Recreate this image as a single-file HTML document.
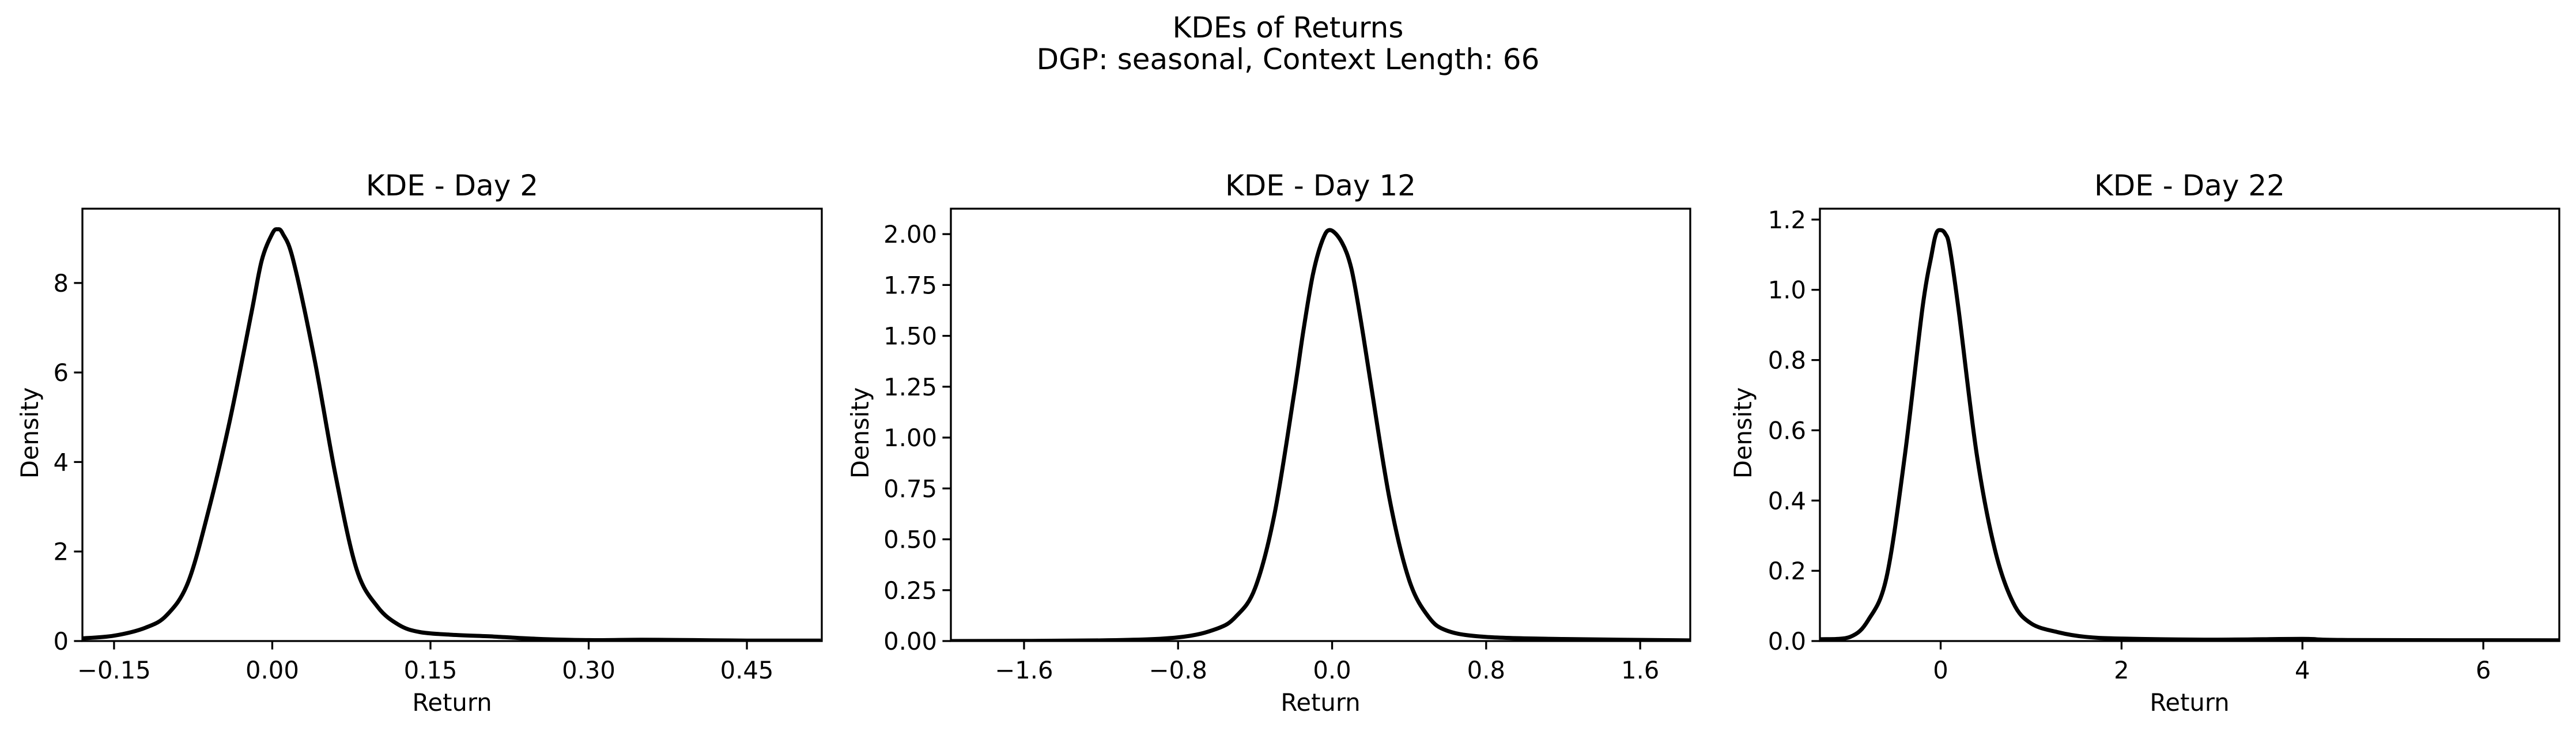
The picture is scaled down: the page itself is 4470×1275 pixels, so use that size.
<!DOCTYPE html>
<html><head><meta charset="utf-8"><style>
html,body{margin:0;padding:0;background:#fff;}
svg{display:block;font-family:"DejaVu Sans","Liberation Sans",sans-serif;}
</style></head><body>
<svg id="fig" xmlns="http://www.w3.org/2000/svg" width="4470" height="1275" viewBox="0 0 4470 1275">
<rect width="4470" height="1275" fill="#fff"/>
<text x="2235" y="65" font-size="50" text-anchor="middle">KDEs of Returns</text>
<text x="2235" y="120" font-size="50" text-anchor="middle">DGP: seasonal, Context Length: 66</text>
</svg>
<script>
const titles = ["KDE - Day 2", "KDE - Day 12", "KDE - Day 22"];
const x1 = [-0.18,-0.15,-0.12,-0.10,-0.08,-0.06,-0.04,-0.02,-0.01,0.0,0.005,0.01,0.02,0.04,0.06,0.08,0.10,0.12,0.14,0.17,0.21,0.25,0.30,0.35,0.40,0.45,0.52];
const y1 = [0.06,0.12,0.3,0.58,1.3,2.95,4.95,7.3,8.5,9.1,9.2,9.1,8.5,6.3,3.7,1.6,0.76,0.36,0.2,0.14,0.1,0.05,0.02,0.03,0.02,0.01,0.01];
const x2 = [-1.98,-1.2,-0.8,-0.6,-0.5,-0.4,-0.3,-0.2,-0.15,-0.1,-0.05,-0.01,0.05,0.1,0.15,0.2,0.3,0.4,0.5,0.6,0.8,1.2,1.86];
const y2 = [0.0,0.003,0.018,0.06,0.12,0.26,0.62,1.2,1.52,1.8,1.97,2.02,1.96,1.83,1.57,1.27,0.69,0.3,0.12,0.05,0.02,0.01,0.003];
const x3 = [-1.335,-1.0,-0.8,-0.6,-0.4,-0.2,-0.1,-0.05,0.0,0.05,0.1,0.2,0.4,0.6,0.8,1.0,1.3,1.6,2.0,3.0,4.0,4.5,6.84];
const y3 = [0.005,0.012,0.06,0.18,0.52,0.95,1.1,1.16,1.17,1.16,1.12,0.94,0.53,0.26,0.11,0.05,0.025,0.012,0.007,0.004,0.006,0.003,0.002];
const xDomains = [[-0.18,0.521],[-1.98,1.86],[-1.335,6.84]];
const yDomains = [[0,9.66],[0,2.125],[0,1.231]];
const xTicks = [[-0.15,0,0.15,0.30,0.45],[-1.6,-0.8,0,0.8,1.6],[0,2,4,6]];
const xTickLabels = [["\u22120.15","0.00","0.15","0.30","0.45"],["\u22121.6","\u22120.8","0.0","0.8","1.6"],["0","2","4","6"]];
const yTicks = [[0,2,4,6,8],[0,0.25,0.5,0.75,1,1.25,1.5,1.75,2],[0,0.2,0.4,0.6,0.8,1.0,1.2]];
const yTickLabels = [["0","2","4","6","8"],["0.00","0.25","0.50","0.75","1.00","1.25","1.50","1.75","2.00"],["0.0","0.2","0.4","0.6","0.8","1.0","1.2"]];
const xs = [x1,x2,x3], ys = [y1,y2,y3];
const NS = "http://www.w3.org/2000/svg";
const svg = document.getElementById('fig');
const lefts = [143,1650,3158], W = 1283, top0 = 362, bot = 1112, ylabX = [52,1493,3025];
function mk(tag, attrs, parent){const e=document.createElementNS(NS,tag);for(const k in attrs)e.setAttribute(k,attrs[k]);(parent||svg).appendChild(e);return e;}
function smooth(P){
  let d='M'+P[0][0].toFixed(1)+','+P[0][1].toFixed(1);
  for(let i=0;i<P.length-1;i++){
    const p0=P[i-1]||P[i],p1=P[i],p2=P[i+1],p3=P[i+2]||P[i+1];
    const c1=[p1[0]+(p2[0]-p0[0])/6,p1[1]+(p2[1]-p0[1])/6];
    const c2=[p2[0]-(p3[0]-p1[0])/6,p2[1]-(p3[1]-p1[1])/6];
    d+='C'+c1[0].toFixed(1)+','+c1[1].toFixed(1)+' '+c2[0].toFixed(1)+','+c2[1].toFixed(1)+' '+p2[0].toFixed(1)+','+p2[1].toFixed(1);
  }
  return d;
}
for(let p=0;p<3;p++){
  const L=lefts[p];
  const sx=v=>L+(v-xDomains[p][0])/(xDomains[p][1]-xDomains[p][0])*W;
  const sy=v=>bot-(v-yDomains[p][0])/(yDomains[p][1]-yDomains[p][0])*(bot-top0);
  const g=mk('g',{});
  
  
  const pts=xs[p].map((v,i)=>[sx(v),sy(ys[p][i])]);
  const cp=mk('clipPath',{id:'c'+p},g);mk('rect',{x:L,y:top0,width:W,height:bot-top0},cp);
  const line=mk('path',{d:smooth(pts),fill:'none',stroke:'#000','stroke-width':7,'stroke-linejoin':'round','clip-path':'url(#c'+p+')'},g);
  
  
  const fr=mk('rect',{x:L,y:top0,width:W,height:bot-top0,fill:'none',stroke:'#000','stroke-width':3.3},g);
  
  
  xTicks[p].forEach((t,i)=>{const x=sx(t);mk('line',{x1:x,x2:x,y1:bot,y2:bot+14.6,stroke:'#000','stroke-width':3.3},g);
    const tx=mk('text',{x:x,y:1177,'font-size':41.7,'text-anchor':'middle'},g);tx.textContent=xTickLabels[p][i];
    
    });
  yTicks[p].forEach((t,i)=>{const y=sy(t);mk('line',{x1:L,x2:L-14.6,y1:y,y2:y,stroke:'#000','stroke-width':3.3},g);
    const tx=mk('text',{x:L-24,y:y+15,'font-size':41.7,'text-anchor':'end'},g);tx.textContent=yTickLabels[p][i];
    
    });
  const ti=mk('text',{x:L+W/2,y:339,'font-size':50,'text-anchor':'middle'},g);ti.textContent=titles[p];
  
  
  const xl=mk('text',{x:L+W/2,y:1233,'font-size':41.7,'text-anchor':'middle'},g);xl.textContent='Return';
  
  
  const yl=mk('text',{x:ylabX[p],y:(top0+bot)/2,'font-size':41.7,'text-anchor':'middle',transform:'rotate(-90 '+(ylabX[p]+14)+' '+((top0+bot)/2)+')'},g);yl.textContent='Density';
  
  
}
</script>
</body></html>
